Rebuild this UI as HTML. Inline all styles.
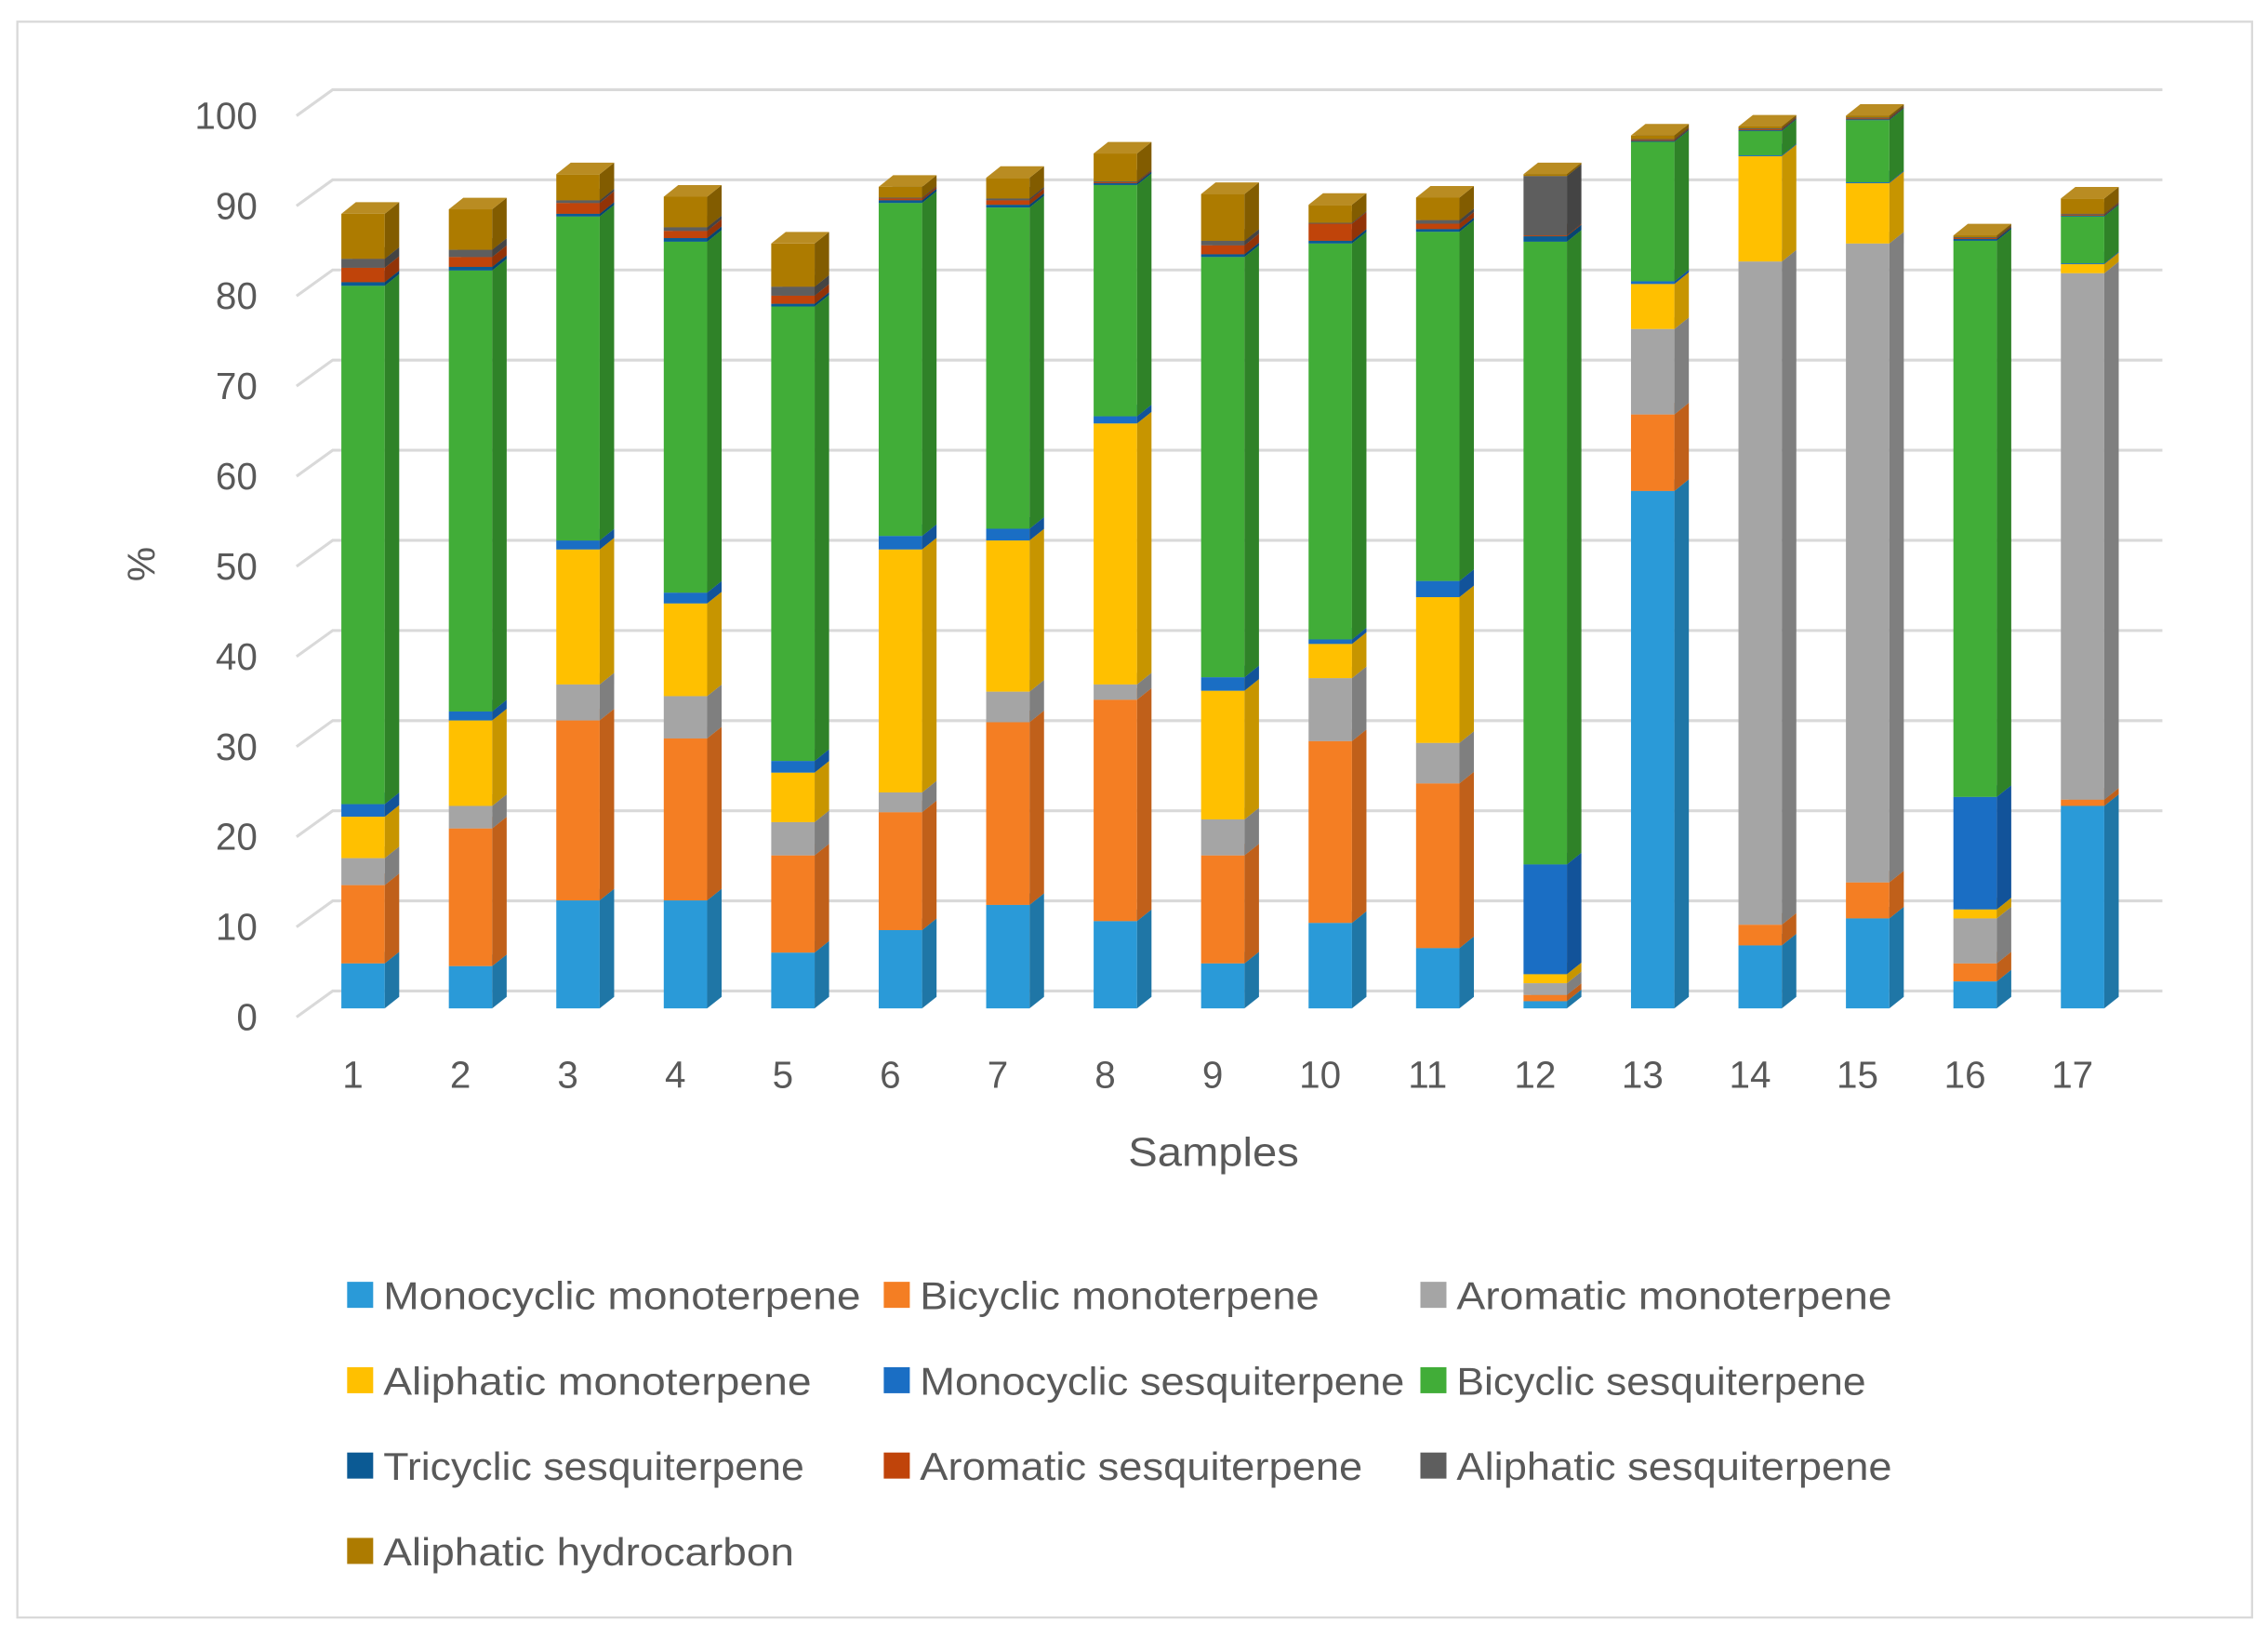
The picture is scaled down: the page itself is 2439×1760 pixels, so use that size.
<!DOCTYPE html>
<html><head><meta charset="utf-8"><style>html,body{margin:0;padding:0;background:#fff}svg{display:block}</style></head>
<body>
<svg id="s" width="2439" height="1760" viewBox="0 0 1568 1131.5" preserveAspectRatio="none" xmlns="http://www.w3.org/2000/svg" font-family="'Liberation Sans', 'DejaVu Sans', sans-serif">
<rect x="12" y="15" width="1545" height="1103" fill="#fff" stroke="#d9d9d9" stroke-width="1.5"/>
</svg>
<script>
const s=document.getElementById('s');
const NS='http://www.w3.org/2000/svg';
function el(t,a,txt){const e=document.createElementNS(NS,t);for(const k in a)e.setAttribute(k,a[k]);if(txt!==undefined)e.textContent=txt;s.appendChild(e);return e;}
for(let k=0;k<=10;k++){
  const yb=685-k*62.3, yf=yb+18;
  el('polyline',{points:`205,${yf} 230,${yb} 1495,${yb}`,fill:'none',stroke:'#d9d9d9','stroke-width':2});
  el('text',{x:178,y:yf+9,'text-anchor':'end','font-size':26,fill:'#595959'},String(k*10));
}
el('text',{x:0,y:0,transform:'translate(107,390) rotate(-90)','text-anchor':'middle','font-size':27,fill:'#595959'},'%');
el('text',{x:780,y:806,'font-size':28,fill:'#595959',textLength:118,lengthAdjust:'spacingAndGlyphs'},'Samples');
const cols=[['#2a9ad8','#1f76a6','#4aa9de'],['#f47e23','#c0601a','#f68f45'],['#a5a5a5','#7f7f7f','#b5b5b5'],['#ffc000','#c79500','#ffca33'],['#1a6ec4','#12539a','#3a83cc'],['#41ad38','#2f8228','#5bb954'],['#0b5a94','#084470','#2a6ea4'],['#c0440a','#923307','#cb5d2a'],['#5e5e5e','#444','#707070'],['#ad7b00','#825c00','#b98c22']];
const data=[
[5,13.7,16.7,21.3,22.7,80.3,80.7,82.3,83.3,88.3],
[4.7,20,22.5,32,33,82,82.4,83.5,84.3,88.8],
[12,32,36,51,52,88,88.3,89.5,89.8,92.7],
[12,30,34.7,45,46.2,85.2,85.6,86.4,86.8,90.2],
[6.2,17,20.7,26.2,27.5,78,78.3,79.2,80.2,85],
[8.7,21.8,24,51,52.5,89.5,89.8,90,90.1,91.3],
[11.5,31.8,35.2,52,53.3,89,89.3,89.8,90,92.3],
[9.7,34.3,36,65,65.8,91.5,91.7,91.8,91.9,95],
[5,17,21,35.3,36.8,83.5,83.8,84.8,85.3,90.5],
[9.5,29.7,36.7,40.5,41,85,85.3,87.2,87.3,89.3],
[6.7,25,29.5,45.7,47.5,86.3,86.6,87.2,87.6,90.1],
[0.8,1.5,2.8,3.8,16,85.2,85.8,85.9,92.5,92.7],
[57.5,66,75.5,80.5,80.8,96.3,96.4,96.5,96.6,97],
[7,9.3,83,94.7,94.8,97.5,97.6,97.7,97.8,98],
[10,14,85,91.7,91.8,98.7,98.8,98.9,99,99.2],
[3,5,10,11,23.5,85.3,85.5,85.6,85.7,85.9],
[22.5,23.2,81.7,82.7,82.8,88,88.1,88.2,88.3,90]];
const Y=v=>697-v*6.22, W=30, DX=10, DY=8;
data.forEach((d,i)=>{
  const x=236+i*74.3;
  let prev=0;
  d.forEach((v,j)=>{
    if(v-prev<=0.01){prev=v;return;}
    const yb=Y(prev), yt=Y(v), c=cols[j];
    el('rect',{x:x,y:yt,width:W,height:yb-yt,fill:c[0]});
    el('polygon',{points:`${x+W},${yb} ${x+W+DX},${yb-DY} ${x+W+DX},${yt-DY} ${x+W},${yt}`,fill:c[1]});
    el('polygon',{points:`${x},${yt} ${x+W},${yt} ${x+W+DX},${yt-DY} ${x+DX},${yt-DY}`,fill:c[2]});
    prev=v;
  });
  el('text',{x:x+8,y:752,'text-anchor':'middle','font-size':26,fill:'#595959'},String(i+1));
});
const names=['Monocyclic monoterpene','Bicyclic monoterpene','Aromatic monoterpene','Aliphatic monoterpene','Monocyclic sesquiterpene','Bicyclic sesquiterpene','Tricyclic sesquiterpene','Aromatic sesquiterpene','Aliphatic sesquiterpene','Aliphatic hydrocarbon'];
const widths=[330,276,301,296,335,283,291,306,301,284];
names.forEach((n,k)=>{
  const r=Math.floor(k/3),c=k%3;
  const x=[240,611,982][c], y=895+r*59;
  el('rect',{x:x,y:y-9,width:18,height:18,fill:cols[k][0]});
  el('text',{x:x+25,y:y+10,'font-size':27,fill:'#595959',textLength:widths[k],lengthAdjust:'spacingAndGlyphs'},n);
});
</script>
</body></html>
